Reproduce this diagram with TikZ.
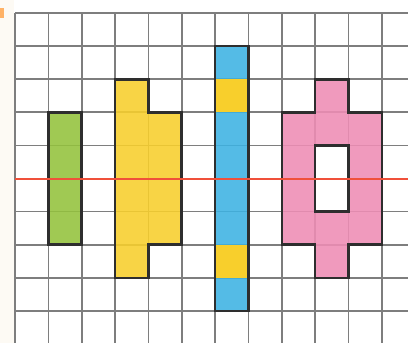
\documentclass[tikz,border=0pt]{standalone}
\definecolor{cgreen}{HTML}{93C23C}
\definecolor{cyellow}{HTML}{F8CF2C}
\definecolor{cblue}{HTML}{3DB2E3}
\definecolor{cpink}{HTML}{EF8DB5}
\definecolor{cred}{HTML}{F0503A}
\definecolor{cgrid}{HTML}{7E7E7E}
\definecolor{coutline}{HTML}{2E2E2E}
\definecolor{ccream}{HTML}{FDFAF4}
\tikzset{
  gridline/.style={draw=cgrid, line width=1.7pt},
  cellfill/.style={fill opacity=0.88},
  outline/.style={draw=coutline, line width=2.6pt, line join=miter},
  axisline/.style={draw=cred, line width=2pt}
}
\begin{document}
\begin{tikzpicture}[x=1pt,y=-1pt]
\useasboundingbox (0,0) rectangle (408,343);
\fill[white] (0,0) rectangle (408,343);
\fill[ccream] (0,0) rectangle (14,343);
\fill[orange!60] (0,8) rectangle (4,18);
\clip (0,0) rectangle (408,343);
\begin{scope}[shift={(15,13)}, x=33.35pt, y=-33.1pt]
  % grid
  \foreach \c in {0,...,12} \draw[gridline] (\c,0) -- (\c,10.5);
  \foreach \r in {0,...,10} \draw[gridline] (0,\r) -- (12.5,\r);
  % green
  \fill[cgreen,cellfill] (1,3) rectangle (2,7);
  \draw[outline] (1,3) rectangle (2,7);
  % yellow
  \fill[cyellow,cellfill] (3,2) -- (4,2) -- (4,3) -- (5,3) -- (5,7) -- (4,7) -- (4,8) -- (3,8) -- cycle;
  \draw[outline] (3,2) -- (4,2) -- (4,3) -- (5,3) -- (5,7) -- (4,7) -- (4,8) -- (3,8) -- cycle;
  % blue column
  \fill[cblue,cellfill] (6,1) rectangle (7,9);
  \fill[cyellow] (6,2) rectangle (7,3);
  \fill[cyellow] (6,7) rectangle (7,8);
  \draw[outline] (6,1) rectangle (7,9);
  % pink
  \fill[cpink,cellfill,even odd rule] (8,3) -- (9,3) -- (9,2) -- (10,2) -- (10,3) -- (11,3) -- (11,7) -- (10,7) -- (10,8) -- (9,8) -- (9,7) -- (8,7) -- cycle (9,4) rectangle (10,6);
  \draw[outline] (8,3) -- (9,3) -- (9,2) -- (10,2) -- (10,3) -- (11,3) -- (11,7) -- (10,7) -- (10,8) -- (9,8) -- (9,7) -- (8,7) -- cycle;
  \draw[outline] (9,4) rectangle (10,6);
  % axis of symmetry
  \draw[axisline] (0,5) -- (12.5,5);
\end{scope}
\end{tikzpicture}
\end{document}
